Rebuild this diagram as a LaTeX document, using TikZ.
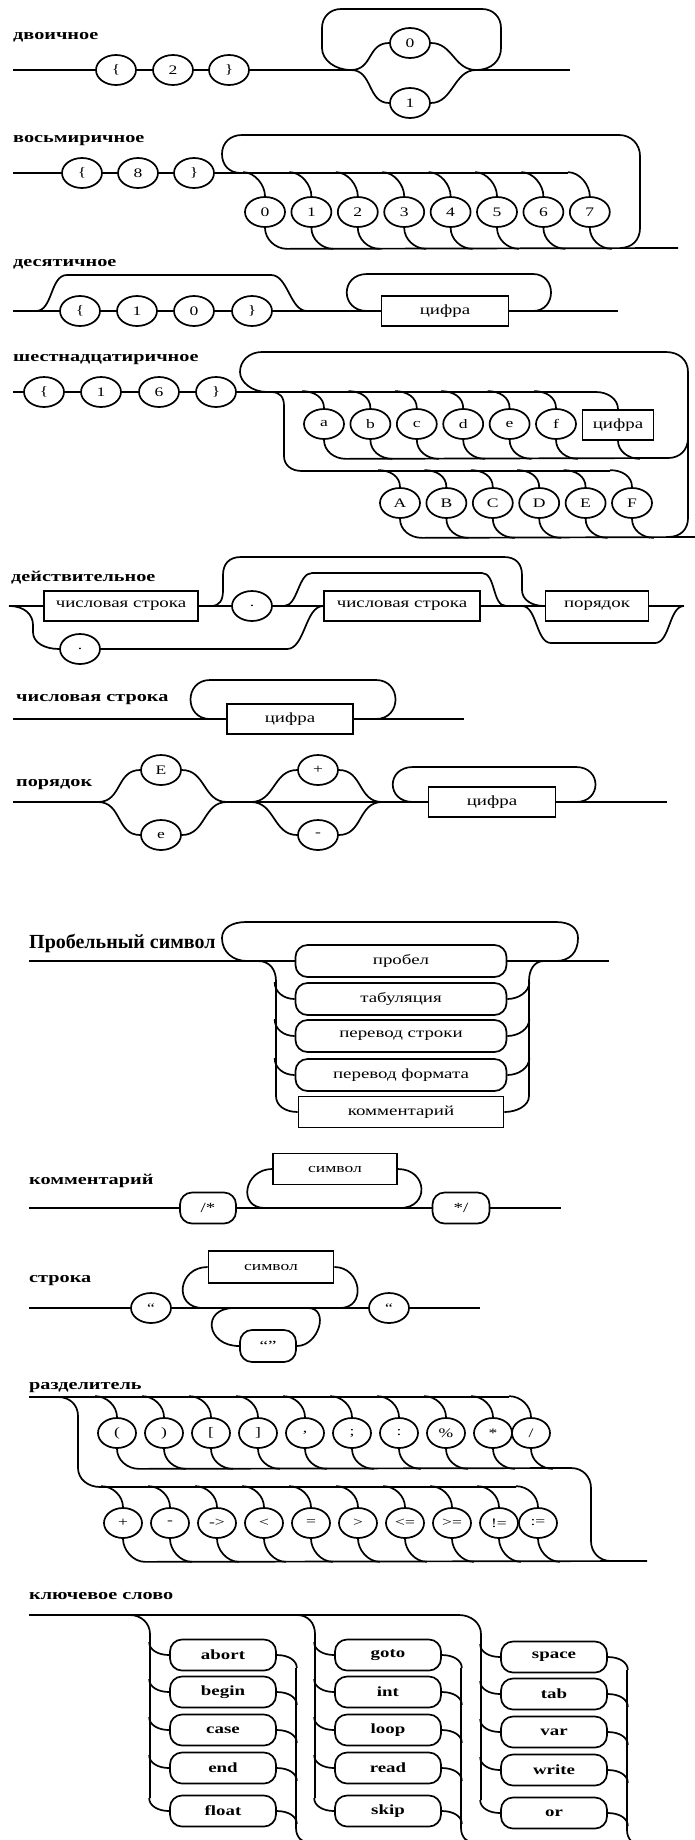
\documentclass[tikz,border=0pt]{standalone}
\usepackage{fontspec}
\setmainfont{Liberation Serif}[FakeStretch=1.35]
\newfontfamily\tallserif{Liberation Serif}
\usetikzlibrary{shapes.geometric,calc}
% ellipse on a row, with a drop from the line above and a rise to the line below
\newcommand\rbranch[6]{%
  \node[el] (#1) at (#2,#3) {#4};
  \draw[wire] ($(#1.north)+(-22,-#5)$) .. controls +(12,0) and +(0,-11) .. (#1.north);
  \draw[wire] (#1.south) .. controls +(0,11) and +(-12,0) .. ($(#1.south)+(22,#6)$);
}
% keyword box hanging between two vertical rails
\newcommand\kwitem[4]{%
  \node[kw] (#1) at (#2,#3) {#4};
  \draw[wire] ($(#1.west)+(-20,-13)$) .. controls +(0,8) and +(-11,0) .. (#1.west);
  \draw[wire] (#1.east) .. controls +(11,0) and +(0,-8) .. ($(#1.east)+(20,13)$);
}
\begin{document}
\begin{tikzpicture}[x=1pt,y=-1pt,
  wire/.style={line width=1.7pt, line join=round},
  el/.style={draw, ellipse, line width=1.7pt, minimum width=40pt, minimum height=30pt, inner sep=0pt, font=\fontsize{13}{15}\selectfont},
  bx/.style={draw, rectangle, line width=1.7pt, minimum height=30pt, inner sep=0pt, font=\fontsize{14}{16}\selectfont},
  pill/.style={bx, rounded corners=12pt},
  kw/.style={pill, minimum width=106pt, minimum height=31pt, font=\fontsize{14}{16}\selectfont\bfseries},
  lbl/.style={anchor=base west, inner sep=0pt, font=\fontsize{15}{17}\selectfont\bfseries},
]
\fill[white] (0,0) rectangle (695,1840);
\useasboundingbox (0,0) rectangle (695,1840);

% ---------------- двоичное
\node[lbl] (L1) at (13,39) {двоичное};
\coordinate (b-in) at (13,70);
\node[el] (b1) at (116,70) {\{};
\node[el] (b2) at (173,70) {2};
\node[el] (b3) at (229,70) {\}};
\coordinate (b-sp) at (351,70);
\coordinate (b-mg) at (476,70);
\coordinate (b-out) at (570,70);
\node[el] (bz) at (410,43) {0};
\node[el] (bo) at (410,103) {1};
\draw[wire] (b-in) -- (b1) -- (b2) -- (b3) -- (b-sp);
\draw[wire] (b-mg) -- (b-out);
\draw[wire] (b-sp) .. controls +(22,0) and +(-22,0) .. (bz.west);
\draw[wire] (b-sp) .. controls +(22,0) and +(-22,0) .. (bo.west);
\draw[wire] (bz.east) .. controls +(22,0) and +(-22,0) .. (b-mg);
\draw[wire] (bo.east) .. controls +(22,0) and +(-22,0) .. (b-mg);
\draw[wire] (b-mg) .. controls +(16,0) and +(0,12) .. (501,48) -- (501,28)
  .. controls +(0,-11) and +(11,0) .. (482,9) -- (341,9)
  .. controls +(-11,0) and +(0,-11) .. (322,28) -- (322,48)
  .. controls +(0,12) and +(-16,0) .. (b-sp);

% ---------------- восьмиричное
\node[lbl] (L2) at (13,142) {восьмиричное};
\coordinate (o-in) at (13,173);
\node[el] (o1) at (82,173) {\{};
\node[el] (o2) at (138,173) {8};
\node[el] (o3) at (194,173) {\}};
\coordinate (o-j) at (241,173);
\coordinate (o-top) at (568,173);
\coordinate (o-bot) at (678,248);
\draw[wire] (o-in) -- (o1) -- (o2) -- (o3) -- (o-top);
\rbranch{od0}{265}{212}{0}{24}{21}
\rbranch{od1}{311.4}{212}{1}{24}{21}
\rbranch{od2}{357.8}{212}{2}{24}{21}
\rbranch{od3}{404.2}{212}{3}{24}{21}
\rbranch{od4}{450.6}{212}{4}{24}{21}
\rbranch{od5}{497}{212}{5}{24}{21}
\rbranch{od6}{543.4}{212}{6}{24}{21}
\rbranch{od7}{589.8}{212}{7}{24}{21}
\draw[wire] ($(od0.south)+(22,21)$) -- (o-bot);
\draw[wire] (o-j) .. controls +(-12,0) and +(0,11) .. (222,154)
  .. controls +(0,-11) and +(-12,0) .. (242,135) -- (619,135)
  .. controls +(12,0) and +(0,-12) .. (640,156) -- (640,228)
  .. controls +(0,12) and +(12,0) .. (620,248);

% ---------------- десятичное
\node[lbl] (L3) at (13,266) {десятичное};
\coordinate (d-in) at (13,311);
\node[el] (t1) at (80,311) {\{};
\node[el] (t2) at (137,311) {1};
\node[el] (t3) at (194,311) {0};
\node[el] (t4) at (252,311) {\}};
\node[bx, minimum width=127pt] (dc) at (445,311) {цифра};
\coordinate (d-out) at (618,311);
\coordinate (d-a) at (36,311);
\coordinate (d-b) at (307,311);
\draw[wire] (d-in) -- (t1) -- (t2) -- (t3) -- (t4) -- (dc) -- (d-out);
\draw[wire] (d-a) .. controls +(17,0) and +(-17,0) .. (67,275) -- (271,275)
  .. controls +(17,0) and +(-17,0) .. (d-b);
\draw[wire] (533,311) .. controls +(24,0) and +(24,0) .. (533,274) -- (367,274)
  .. controls +(-27,0) and +(-27,0) .. (367,311);

% ---------------- шестнадцатиричное
\node[lbl] (L4) at (13,361) {шестнадцатиричное};
\coordinate (h-in) at (13,392);
\node[el] (h1) at (44,392) {\{};
\node[el] (h2) at (101,392) {1};
\node[el] (h3) at (159,392) {6};
\node[el] (h4) at (216,392) {\}};
\coordinate (h-top) at (596,392);
\draw[wire] (h-in) -- (h1) -- (h2) -- (h3) -- (h4) -- (h-top);
\rbranch{ha}{324}{424}{a}{17}{19}
\rbranch{hb}{370.4}{424}{b}{17}{19}
\rbranch{hc}{416.8}{424}{c}{17}{19}
\rbranch{hd}{463.2}{424}{d}{17}{19}
\rbranch{he}{509.6}{424}{e}{17}{19}
\rbranch{hf}{556}{424}{f}{17}{19}
\node[bx, minimum width=71pt] (hz) at (618,425) {цифра};
\draw[wire] (h-top) .. controls +(12,0) and +(0,-10) .. (hz.north);
\draw[wire] (hz.south) .. controls +(0,10) and +(-12,0) .. ($(hz.south)+(22,18)$);
\draw[wire] ($(ha.south)+(22,19)$) -- (668,458) .. controls +(12,0) and +(0,12) .. (688,438);
\draw[wire] (271,392) .. controls +(9,0) and +(0,-9) .. (284,406) -- (284,456)
  .. controls +(0,9) and +(-11,0) .. (302,471) -- (610,471);
\rbranch{hA}{400}{503}{A}{17}{19}
\rbranch{hB}{446.4}{503}{B}{17}{19}
\rbranch{hC}{492.8}{503}{C}{17}{19}
\rbranch{hD}{539.2}{503}{D}{17}{19}
\rbranch{hE}{585.6}{503}{E}{17}{19}
\rbranch{hF}{632}{503}{F}{17}{19}
\draw[wire] ($(hA.south)+(22,19)$) -- (695,537);
\draw[wire] (267,392) .. controls +(-15,0) and +(0,10) .. (240,372)
  .. controls +(0,-11) and +(-13,0) .. (262,352) -- (666,352)
  .. controls +(13,0) and +(0,-12) .. (688,372) -- (688,518)
  .. controls +(0,11) and +(13,0) .. (668,537);

% ---------------- действительное
\node[lbl] (L5) at (11,581) {действительное};
\coordinate (r-in) at (9,606);
\node[bx, minimum width=154pt] (r1) at (121,606) {числовая строка};
\node[el] (rp) at (252,606) {.};
\node[bx, minimum width=156pt] (r2) at (402,606) {числовая строка};
\node[bx, minimum width=103pt] (r3) at (597,606) {порядок};
\node[el] (rq) at (80,649) {.};
\coordinate (r-out) at (684,606);
\draw[wire] (r-in) -- (r1) -- (rp) -- (r2) -- (r3) -- (r-out);
\draw[wire] (r-in) .. controls +(16,0) and +(0,-10) .. (33,625) -- (33,632)
  .. controls +(0,11) and +(-14,0) .. (rq.west);
\draw[wire] (rq) -- (287,649) .. controls +(18,0) and +(-18,0) .. (r2.west);
\draw[wire] (211,606) .. controls +(9,0) and +(0,10) .. (223,590) -- (223,575)
  .. controls +(0,-11) and +(-12,0) .. (241,557) -- (504,557)
  .. controls +(12,0) and +(0,-11) .. (522,575) -- (522,590)
  .. controls +(0,10) and +(-12,0) .. (544,606);
\draw[wire] (284,606) .. controls +(14,0) and +(-14,0) .. (312,573) -- (482,573)
  .. controls +(14,0) and +(-14,0) .. (506,606);
\draw[wire] (522,606) .. controls +(15,0) and +(-15,0) .. (551,643) -- (655,643)
  .. controls +(15,0) and +(-15,0) .. (r-out);

% ---------------- числовая строка
\node[lbl] (L6) at (16,701) {числовая строка};
\coordinate (n-in) at (13,719);
\node[bx, minimum width=126pt] (nc) at (290,719) {цифра};
\coordinate (n-out) at (464,719);
\draw[wire] (n-in) -- (nc) -- (n-out);
\draw[wire] (376,719) .. controls +(26,0) and +(26,0) .. (376,680) -- (210,680)
  .. controls +(-26,0) and +(-26,0) .. (210,719);

% ---------------- порядок
\node[lbl] (L7) at (16,786) {порядок};
\coordinate (p-in) at (13,802);
\coordinate (p-s1) at (98,802);
\coordinate (p-m1) at (227,802);
\coordinate (p-s2) at (251,802);
\coordinate (p-m2) at (382,802);
\coordinate (p-out) at (667,802);
\node[el] (pE) at (161,770) {E};
\node[el] (pe) at (161,835) {e};
\node[el] (pp) at (318,770) {+};
\node[el] (pm) at (318,835) {-};
\node[bx, minimum width=127pt] (pc) at (492,802) {цифра};
\draw[wire] (p-in) -- (p-s1);
\draw[wire] (p-m1) -- (pc) -- (p-out);
\draw[wire] (p-s1) .. controls +(24,0) and +(-24,0) .. (pE.west);
\draw[wire] (p-s1) .. controls +(24,0) and +(-24,0) .. (pe.west);
\draw[wire] (pE.east) .. controls +(24,0) and +(-24,0) .. (p-m1);
\draw[wire] (pe.east) .. controls +(24,0) and +(-24,0) .. (p-m1);
\draw[wire] (p-s2) .. controls +(24,0) and +(-24,0) .. (pp.west);
\draw[wire] (p-s2) .. controls +(24,0) and +(-24,0) .. (pm.west);
\draw[wire] (pp.east) .. controls +(24,0) and +(-24,0) .. (p-m2);
\draw[wire] (pm.east) .. controls +(24,0) and +(-24,0) .. (p-m2);
\draw[wire] (576,802) .. controls +(26,0) and +(26,0) .. (576,767) -- (413,767)
  .. controls +(-27,0) and +(-27,0) .. (413,802);

% ---------------- Пробельный символ
\node[anchor=base west, inner sep=0pt, font=\tallserif\fontsize{20}{22}\selectfont\bfseries] (L8) at (29,948) {Пробельный символ};
\coordinate (w-in) at (29,961);
\coordinate (w-out) at (609,961);
\begin{scope}[every node/.append style={font=\fontsize{15}{17}\selectfont}]
\node[pill, minimum width=211pt, minimum height=32pt] (w1) at (401,961) {пробел};
\node[pill, minimum width=211pt, minimum height=32pt] (w2) at (401,999) {табуляция};
\node[pill, minimum width=211pt, minimum height=32pt] (w3) at (401,1036) {перевод строки};
\node[pill, minimum width=211pt, minimum height=32pt] (w4) at (401,1075) {перевод формата};
\node[bx, minimum width=205pt, minimum height=31pt] (w5) at (401,1112) {комментарий};
\end{scope}
\draw[wire] (w-in) -- (w1) -- (w-out);
\draw[wire] (556,961) .. controls +(14,0) and +(0,14) .. (578,938)
  .. controls +(0,-10) and +(14,0) .. (556,922) -- (246,922)
  .. controls +(-14,0) and +(0,-10) .. (222,938)
  .. controls +(0,14) and +(-14,0) .. (247,961);
\draw[wire] (258,961) .. controls +(12,0) and +(0,-11) .. (276,981) -- (276,1096)
  .. controls +(0,10) and +(-12,0) .. (w5.west);
\draw[wire] (544,961) .. controls +(-10,0) and +(0,-11) .. (529,981) -- (529,1096)
  .. controls +(0,10) and +(12,0) .. (w5.east);
\foreach \k in {2,3,4} {
  \draw[wire] ($(w\k.west)+(-20,-17)$) .. controls +(0,10) and +(-11,0) .. (w\k.west);
  \draw[wire] (w\k.east) .. controls +(11,0) and +(0,10) .. ($(w\k.east)+(22,-17)$);
}

% ---------------- комментарий
\node[lbl] (L9) at (29,1184) {комментарий};
\coordinate (c-in) at (29,1208);
\coordinate (c-out) at (561,1208);
\node[pill, minimum width=56pt, minimum height=31pt] (c1) at (208,1208) {/*};
\node[pill, minimum width=57pt, minimum height=31pt] (c2) at (461,1208) {*/};
\node[bx, minimum width=124pt, minimum height=31pt, font=\fontsize{13}{15}\selectfont] (cs) at (335,1169) {символ};
\draw[wire] (c-in) -- (c1) -- (c2) -- (c-out);
\draw[wire] (265,1208) .. controls +(-28,0) and +(-28,0) .. (cs.west);
\draw[wire] (cs.east) .. controls +(30,0) and +(30,0) .. (400,1208);

% ---------------- строка
\node[lbl] (L10) at (29,1282) {строка};
\coordinate (s-in) at (29,1308);
\coordinate (s-out) at (480,1308);
\node[el] (s1) at (151,1308) {“};
\node[el] (s2) at (389,1308) {“};
\node[bx, minimum width=125pt, minimum height=32pt, font=\fontsize{13}{15}\selectfont] (ss) at (271,1267) {символ};
\node[pill, minimum width=56pt, minimum height=32pt] (sq) at (268,1346) {“”};
\draw[wire] (s-in) -- (s1) -- (s2) -- (s-out);
\draw[wire] (203,1308) .. controls +(-30,0) and +(-30,0) .. (ss.west);
\draw[wire] (ss.east) .. controls +(27,0) and +(27,0) .. (340,1308);
\draw[wire] (234,1308) .. controls +(-33,0) and +(-33,0) .. (sq.west);
\draw[wire] (sq.east) .. controls +(22,0) and +(22,0) .. (308,1308);

% ---------------- разделитель
\node[lbl] (L11) at (29,1389) {разделитель};
\coordinate (z-in) at (29,1397);
\draw[wire] (z-in) -- (509,1397);
\begin{scope}[el/.append style={minimum width=38pt}]
\rbranch{z1}{117}{1433}{(}{21}{20}
\rbranch{z2}{164}{1433}{)}{21}{20}
\rbranch{z3}{211}{1433}{[}{21}{20}
\rbranch{z4}{258}{1433}{]}{21}{20}
\rbranch{z5}{305}{1433}{,}{21}{20}
\rbranch{z6}{352}{1433}{;}{21}{20}
\rbranch{z7}{399}{1433}{:}{21}{20}
\rbranch{z8}{446}{1433}{\%}{21}{20}
\rbranch{z9}{493}{1433}{*}{21}{20}
\rbranch{z10}{531}{1433}{/}{21}{20}
\rbranch{y1}{123}{1523}{+}{21}{23}
\rbranch{y2}{170}{1523}{-}{21}{23}
\rbranch{y3}{217}{1523}{->}{21}{23}
\rbranch{y4}{264}{1523}{<}{21}{23}
\rbranch{y5}{311}{1523}{=}{21}{23}
\rbranch{y6}{358}{1523}{>}{21}{23}
\rbranch{y7}{405}{1523}{<=}{21}{23}
\rbranch{y8}{452}{1523}{>=}{21}{23}
\rbranch{y9}{499}{1523}{!=}{21}{23}
\rbranch{y10}{538}{1523}{:=}{21}{23}
\end{scope}
\draw[wire] (58,1397) .. controls +(12,0) and +(0,-11) .. (78,1416) -- (78,1468)
  .. controls +(0,11) and +(-12,0) .. (100,1487) -- (516,1487);
\draw[wire] ($(z1.south)+(22,20)$) -- (571,1468) .. controls +(12,0) and +(0,-11) .. (591,1488)
  -- (591,1541) .. controls +(0,11) and +(-12,0) .. (611,1561);
\draw[wire] ($(y1.south)+(22,23)$) -- (647,1561);

% ---------------- ключевое слово
\node[lbl] (L12) at (29,1599) {ключевое слово};
\coordinate (k-in) at (29,1615);
\coordinate (k-end) at (459,1615);
\draw[wire] (k-in) -- (k-end);
\kwitem{ka1}{223}{1655}{abort}
\kwitem{ka2}{223}{1692}{begin}
\kwitem{ka3}{223}{1730}{case}
\kwitem{ka4}{223}{1768}{end}
\kwitem{ka5}{223}{1811}{float}
\kwitem{kb1}{388}{1655}{goto}
\kwitem{kb2}{388}{1692}{int}
\kwitem{kb3}{388}{1730}{loop}
\kwitem{kb4}{388}{1768}{read}
\kwitem{kb5}{388}{1811}{skip}
\kwitem{kc1}{554}{1657}{space}
\kwitem{kc2}{554}{1694}{tab}
\kwitem{kc3}{554}{1732}{var}
\kwitem{kc4}{554}{1770}{write}
\kwitem{kc5}{554}{1813}{or}
\draw[wire] (130,1615) .. controls +(11,0) and +(0,-11) .. (150,1634) -- (150,1798);
\draw[wire] (297,1615) .. controls +(11,0) and +(0,-11) .. (315,1634) -- (315,1798);
\draw[wire] (k-end) .. controls +(12,0) and +(0,-11) .. (481,1634) -- (481,1800);
\draw[wire] (296,1668) -- (296,1828) .. controls +(0,9) and +(-8,0) .. (310,1843);
\draw[wire] (461,1668) -- (461,1828) .. controls +(0,9) and +(-8,0) .. (475,1843);
\draw[wire] (627,1670) -- (627,1830) .. controls +(0,9) and +(-8,0) .. (641,1845);
\end{tikzpicture}
\end{document}
